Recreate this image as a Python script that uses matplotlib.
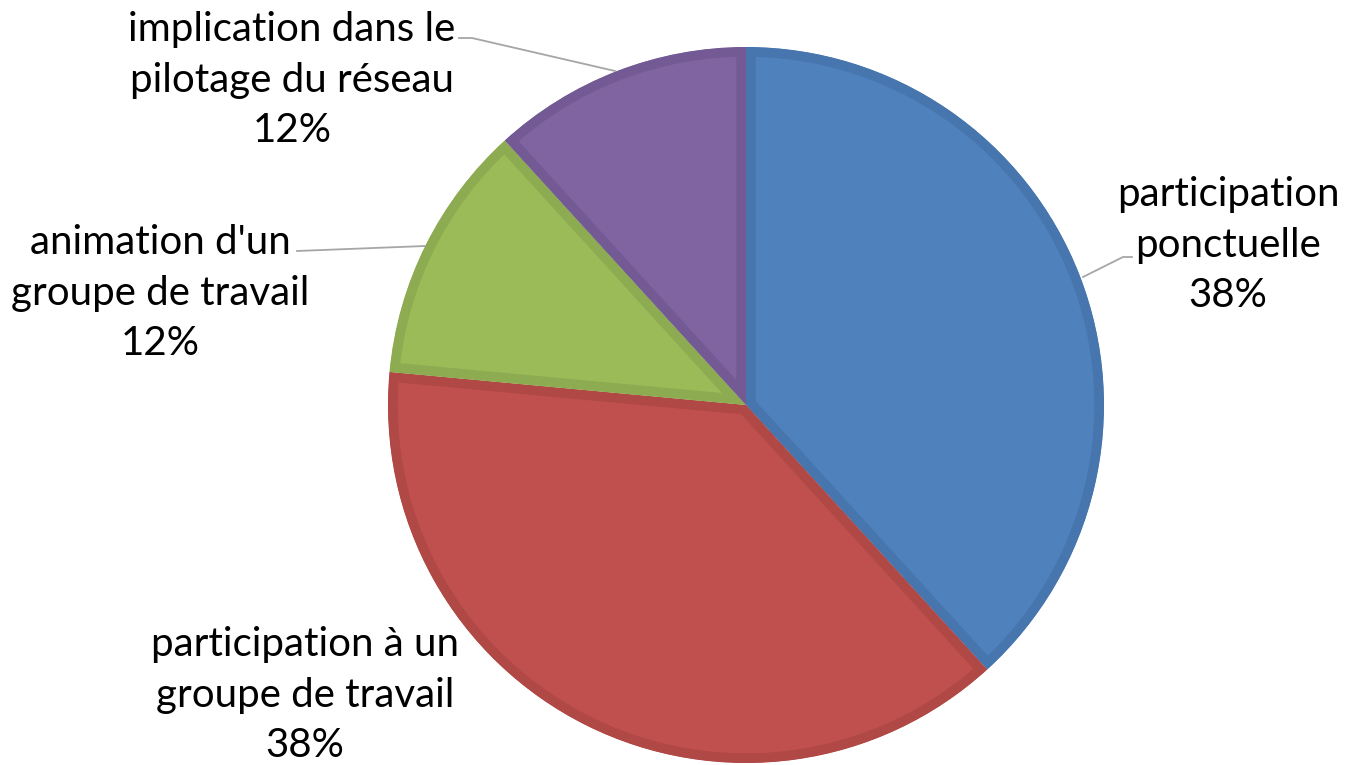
import matplotlib
matplotlib.use("Agg")
import matplotlib.pyplot as plt

categories = ["participation\nponctuelle", "participation à un\ngroupe de travail",
              "animation d'un\ngroupe de travail", "implication dans le\npilotage du réseau"]
values = [13, 13, 4, 4]
fills = ["#4F81BD", "#C0504D", "#9BBB59", "#8064A2"]
borders = ["#4775AD", "#B04845", "#8DAB50", "#745A94"]

W, H = 1345, 765
fig = plt.figure(figsize=(W / 100, H / 100), dpi=100)
ax = fig.add_axes([0, 0, 1, 1])
cx, cy, R = 746, 360, 358

wedges, _ = ax.pie(values, colors=fills, startangle=90, counterclock=False,
                   center=(cx, cy), radius=R, frame=True)
for w, bc in zip(wedges, borders):
    w.set_edgecolor(bc)
    w.set_linewidth(14)
    w.set_clip_on(True)
    w.set_clip_path(w.get_path(), w.get_transform())

total = sum(values)
pcts = [f"{round(100 * v / total)}%" for v in values]
label_pos = [(1228, 520), (305, 70), (160, 472), (292, 685)]
leaders = [
    [(1083, 488), (1123, 508), (1132, 508)],
    None,
    [(297, 514), (425, 519)],
    [(459, 727), (472, 727), (615, 694)],
]
for cat, p, pos, ld in zip(categories, pcts, label_pos, leaders):
    ax.text(pos[0], pos[1], f"{cat}\n{p}", ha="center", va="center",
            fontsize=29, family="Lato", linespacing=1.45, color="black")
    if ld:
        xs, ys = zip(*ld)
        ax.plot(xs, ys, color="#A6A6A6", lw=1.3)

ax.set_xlim(0, W)
ax.set_ylim(0, H)
ax.set_aspect("equal")
ax.axis("off")
fig.savefig("out.png", dpi=100)
